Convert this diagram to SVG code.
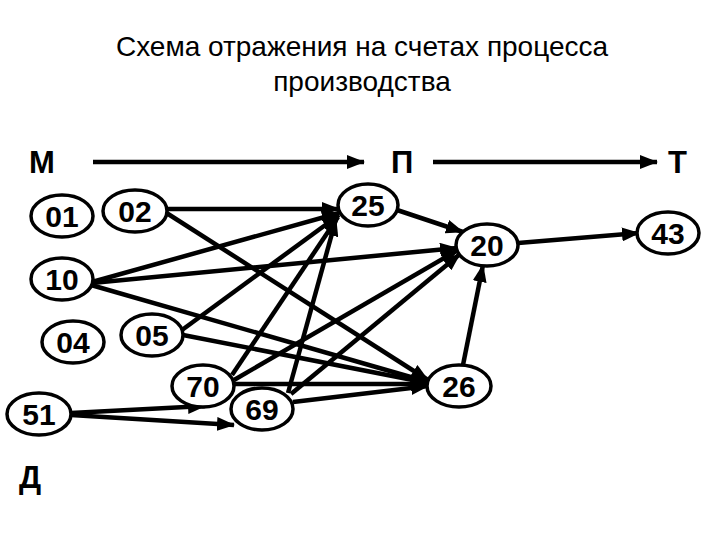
<svg xmlns="http://www.w3.org/2000/svg" width="720" height="540" viewBox="0 0 720 540">
<style>
.t{font-family:"Liberation Sans",Arial,sans-serif;font-size:28px;fill:#000;text-anchor:middle}
.L{font-family:"Liberation Sans",Arial,sans-serif;font-size:31px;font-weight:bold;fill:#000}
.n ellipse{fill:#fff;stroke:#000;stroke-width:3.5}
.n text{font-family:"Liberation Sans",Arial,sans-serif;font-size:30px;font-weight:bold;fill:#000;text-anchor:middle}
.e line{stroke:#000;stroke-width:4.5;marker-end:url(#ah)}
</style>
<defs>
<marker id="ah" markerUnits="userSpaceOnUse" markerWidth="18" markerHeight="14" refX="17" refY="7" orient="auto">
<path d="M0,0 L18,7 L0,14 Z" fill="#000"/>
</marker>
</defs>
<rect width="720" height="540" fill="#fff"/>
<text class="t" x="362" y="56">Схема отражения на счетах процесса</text>
<text class="t" x="362" y="91">производства</text>
<text class="L" x="29" y="173">М</text>
<text class="L" x="391" y="173">П</text>
<text class="L" x="668" y="173">Т</text>
<text class="L" x="19" y="488">Д</text>
<g id="connectors" class="e">
<line x1="93" y1="162" x2="364" y2="162"/>
<line x1="433" y1="162" x2="657" y2="162"/>
<line x1="167" y1="209" x2="339" y2="209"/>
<line x1="165" y1="212" x2="428" y2="380"/>
<line x1="92" y1="282" x2="339" y2="213"/>
<line x1="92" y1="283" x2="457" y2="248"/>
<line x1="91" y1="285" x2="428" y2="382"/>
<line x1="182" y1="330" x2="339" y2="215"/>
<line x1="183" y1="335" x2="428" y2="383"/>
<line x1="232" y1="375" x2="338" y2="217"/>
<line x1="234" y1="380" x2="458" y2="250"/>
<line x1="235" y1="384" x2="428" y2="384"/>
<line x1="288" y1="393" x2="336" y2="219"/>
<line x1="291" y1="394" x2="460" y2="254"/>
<line x1="293" y1="402" x2="428" y2="386"/>
<line x1="71" y1="413" x2="205" y2="406"/>
<line x1="71" y1="415" x2="234" y2="425"/>
<line x1="397" y1="210" x2="463" y2="232"/>
<line x1="518" y1="243" x2="639" y2="233"/>
<line x1="463" y1="365" x2="483" y2="265"/>
</g>
<g id="n01" class="n"><ellipse cx="62" cy="216" rx="31" ry="21"/><text x="62" y="227">01</text></g>
<g id="n02" class="n"><ellipse cx="135" cy="211" rx="32" ry="21"/><text x="135" y="222">02</text></g>
<g id="n25" class="n"><ellipse cx="368" cy="205" rx="30" ry="21"/><text x="368" y="216">25</text></g>
<g id="n10" class="n"><ellipse cx="62" cy="279" rx="31" ry="21"/><text x="62" y="290">10</text></g>
<g id="n20" class="n"><ellipse cx="487" cy="245" rx="31" ry="21"/><text x="487" y="256">20</text></g>
<g id="n43" class="n"><ellipse cx="668" cy="233" rx="31" ry="21"/><text x="668" y="244">43</text></g>
<g id="n04" class="n"><ellipse cx="73" cy="342" rx="31" ry="21"/><text x="73" y="353">04</text></g>
<g id="n05" class="n"><ellipse cx="152" cy="335" rx="31" ry="21"/><text x="152" y="346">05</text></g>
<g id="n70" class="n"><ellipse cx="203" cy="386" rx="31" ry="21"/><text x="203" y="397">70</text></g>
<g id="n69" class="n"><ellipse cx="262" cy="409" rx="31" ry="21"/><text x="262" y="420">69</text></g>
<g id="n51" class="n"><ellipse cx="39" cy="414" rx="32" ry="21"/><text x="39" y="425">51</text></g>
<g id="n26" class="n"><ellipse cx="459" cy="386" rx="32" ry="21"/><text x="459" y="397">26</text></g>
</svg>
